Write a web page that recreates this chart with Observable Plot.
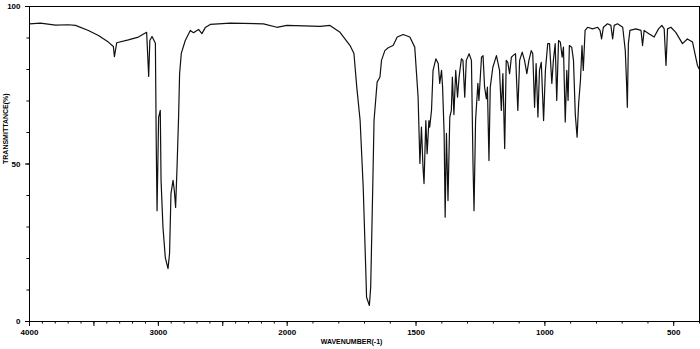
<!DOCTYPE html>
<html>
<head>
<meta charset="utf-8">
<script src="https://cdn.jsdelivr.net/npm/d3@7"></script>
<script src="https://cdn.jsdelivr.net/npm/@observablehq/plot@0.6"></script>
<style>
  html, body { margin: 0; padding: 0; background: #fff; }
  #chart svg { display: block; }
</style>
</head>
<body>
<div id="chart"></div>
<script>
// IR spectrum: wavenumber (cm-1) and transmittance (%)
const wavenumber = [
  4000, 3915, 3798, 3698, 3643, 3543, 3465, 3388, 3349, 3341, 3323, 3233, 3155, 3091, 3075, 3066, 3049, 3023, 3016, 3010,
  2998, 2985, 2979, 2964, 2946, 2925, 2913, 2902, 2886, 2876, 2866, 2855, 2843, 2835, 2822, 2791, 2752, 2727, 2688, 2662,
  2636, 2597, 2442, 2184, 2080, 2003, 1872, 1834, 1795, 1756, 1741, 1730, 1717, 1705, 1695, 1692, 1681, 1676, 1668, 1663,
  1651, 1640, 1634, 1621, 1608, 1589, 1573, 1550, 1524, 1505, 1492, 1485, 1479, 1473, 1469, 1462, 1457, 1450, 1447, 1440,
  1434, 1423, 1414, 1408, 1401, 1397, 1391, 1387, 1382, 1376, 1369, 1363, 1359, 1353, 1346, 1339, 1333, 1324, 1318, 1311,
  1305, 1294, 1285, 1279, 1275, 1269, 1260, 1256, 1246, 1240, 1234, 1227, 1223, 1217, 1212, 1202, 1188, 1176, 1169, 1163,
  1156, 1150, 1144, 1137, 1130, 1124, 1114, 1105, 1098, 1088, 1079, 1070, 1062, 1053, 1047, 1040, 1034, 1027, 1021, 1014,
  1005, 998, 989, 982, 973, 967, 960, 954, 947, 940, 933, 928, 921, 915, 910, 905, 896, 889, 882, 875,
  869, 862, 856, 851, 844, 834, 815, 795, 786, 780, 773, 757, 744, 737, 731, 718, 698, 688, 683, 680,
  676, 670, 647, 627, 621, 615, 595, 576, 559, 546, 537, 530, 524, 511, 492, 466, 447, 427, 408, 400
];
const transmittance = [
  94.5, 94.7, 94.1, 94.2, 94.0, 92.4, 90.8, 88.7, 87.3, 84.1, 88.5, 89.4, 90.3, 91.8, 77.8, 89.2, 90.5, 88.3, 55.2, 35.2,
  64.8, 67.0, 44.8, 29.8, 20.3, 16.8, 21.6, 40.6, 44.8, 41.6, 36.2, 48.9, 64.8, 78.7, 85.1, 89.2, 92.4, 91.7, 92.7, 91.4,
  93.3, 94.3, 94.7, 94.5, 93.4, 94.0, 93.7, 94.0, 91.8, 87.6, 85.1, 74.4, 63.8, 42.6, 16.2, 7.7, 5.1, 10.9, 42.6, 63.8,
  76.0, 77.6, 82.9, 86.0, 86.9, 87.6, 90.3, 91.1, 90.3, 87.1, 71.2, 50.2, 61.7, 49.0, 43.8, 63.8, 53.3, 63.8, 61.7, 67.0,
  79.7, 83.4, 81.9, 75.6, 79.7, 74.4, 59.7, 33.1, 59.7, 38.4, 64.9, 67.0, 77.6, 65.7, 79.7, 71.2, 77.6, 83.4, 82.9, 71.2,
  82.9, 85.0, 82.9, 50.2, 35.2, 63.8, 75.6, 70.2, 83.9, 84.4, 74.4, 70.7, 74.4, 51.1, 74.4, 80.7, 84.4, 79.7, 67.0, 78.7,
  54.9, 82.9, 82.3, 78.7, 83.9, 84.4, 85.0, 67.0, 82.9, 85.5, 82.9, 78.7, 82.9, 86.0, 85.0, 68.0, 81.9, 64.9, 79.7, 82.3,
  63.8, 79.7, 88.2, 88.2, 75.6, 82.9, 88.2, 70.2, 89.2, 88.7, 83.9, 87.1, 63.3, 79.7, 70.2, 87.6, 87.1, 82.9, 65.7, 58.5,
  69.2, 76.5, 87.6, 79.7, 92.4, 93.4, 92.9, 93.4, 92.4, 89.7, 93.4, 94.5, 94.0, 89.7, 94.0, 94.5, 93.4, 86.0, 75.6, 68.0,
  88.2, 92.4, 92.9, 92.4, 87.6, 92.4, 91.3, 90.3, 92.9, 94.0, 92.9, 81.3, 92.9, 93.4, 91.8, 88.2, 89.7, 88.7, 81.3, 80.0
];

// Axis ticks and labels
const xScaleBreaks = [4000, 2000, 400];
const xMajorTicks = [4000, 3500, 3000, 2500, 2000, 1500, 1000, 500];
const xMinorTicks = d3.range(4000, 399, -100);
const xTickLabels = [4000, 3000, 2000, 1500, 1000, 500];
const yTicks = d3.range(0, 101, 10);
const yTickLabels = [0, 50, 100];
const xTitle = "WAVENUMBER(-1)";
const yTitle = "TRANSMITTANCE(%)";

const data = wavenumber.map((w, i) => ({w, t: transmittance[i]}));

const W = 700, H = 349;
const mL = 29, mR = 1, mT = 6, mB = 28;
const xBreakPos = mL + (W - mL - mR) * (2000 / (2000 + 3200)); // 4000-2000 compressed to half scale

const chart = Plot.plot({
  width: W,
  height: H,
  marginLeft: mL,
  marginRight: mR,
  marginTop: mT,
  marginBottom: mB,
  style: {fontFamily: "Liberation Sans, DejaVu Sans, sans-serif", fontSize: "8px", fontWeight: "bold", background: "#fff", color: "#000"},
  x: {type: "linear", domain: xScaleBreaks, range: [mL, xBreakPos, W - mR]},
  y: {domain: [0, 100], range: [H - mB, mT]},
  marks: [
    Plot.line(data, {x: "w", y: "t", stroke: "#111", strokeWidth: 1.2, curve: "linear"}),
    Plot.frame({stroke: "#000", strokeWidth: 1}),
    Plot.axisX(xMinorTicks, {tickSize: 2.5, tickFormat: () => "", label: null, stroke: "#000"}),
    Plot.axisX(xMajorTicks, {tickSize: 5, tickPadding: 3, tickFormat: d => xTickLabels.includes(d) ? String(d) : "", label: null, stroke: "#000", fill: "#000"}),
    Plot.axisY(yTicks, {tickSize: 2.5, tickFormat: () => "", label: null, stroke: "#000"}),
    Plot.axisY(yTickLabels, {tickSize: 4, tickPadding: 5, tickFormat: d => String(d), label: null, stroke: "#000", fill: "#000"}),
    Plot.text([xTitle], {frameAnchor: "bottom", dy: 20, dx: -13, text: d => d, fontSize: 7, fill: "#000", lineAnchor: "middle"}),
    Plot.text([yTitle], {frameAnchor: "left", dx: -24, rotate: -90, text: d => d, fontSize: 7, fill: "#000", lineAnchor: "middle"})
  ]
});
document.getElementById("chart").appendChild(chart);
</script>
</body>
</html>
